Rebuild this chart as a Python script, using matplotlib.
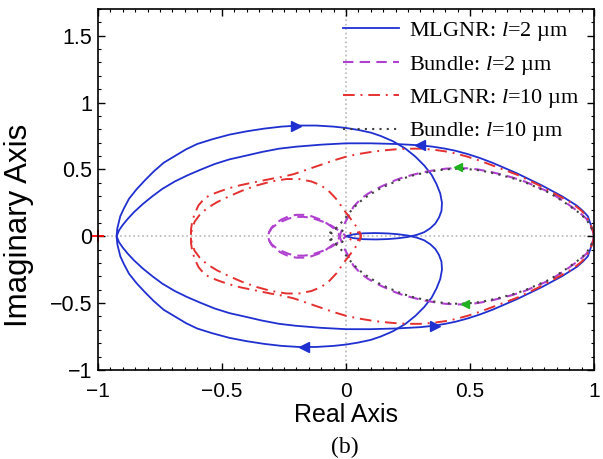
import numpy as np
import matplotlib
matplotlib.use('Agg')
import matplotlib.pyplot as plt
from matplotlib.lines import Line2D

plt.rcParams['font.family'] = ['Liberation Sans', 'DejaVu Sans']
plt.rcParams['mathtext.fontset'] = 'custom'
plt.rcParams['mathtext.it'] = 'Liberation Serif:italic'
plt.rcParams['mathtext.rm'] = 'Liberation Serif'

# Nyquist branches (one branch each, the other is the mirror image)
mlgnr2_x = [1.00, 0.997, 0.99, 0.975, 0.955, 0.93, 0.90, 0.87, 0.83, 0.79, 0.74, 0.69, 0.64, 0.59, 0.54,
            0.49, 0.44, 0.40, 0.35, 0.30, 0.20, 0.10, 0.0, -0.10, -0.20,
            -0.27, -0.34, -0.41, -0.47, -0.53, -0.59, -0.64, -0.69, -0.74, -0.78, -0.82, -0.855, -0.88,
            -0.90, -0.915, -0.925,
            -0.922, -0.91, -0.895, -0.875, -0.845, -0.81, -0.775, -0.735, -0.69, -0.645, -0.60, -0.54,
            -0.47, -0.40, -0.33, -0.26, -0.19, -0.12, -0.05, 0.0, 0.05, 0.10, 0.14, 0.19, 0.24, 0.28,
            0.315, 0.345, 0.365, 0.38, 0.387, 0.385, 0.375, 0.36, 0.34, 0.315, 0.285, 0.25, 0.21, 0.17,
            0.12, 0.07, 0.03, 0.0]
mlgnr2_y = [0.00, 0.035, 0.07, 0.15, 0.19, 0.23, 0.265, 0.30, 0.34, 0.38, 0.425, 0.47, 0.51, 0.55, 0.585,
            0.615, 0.64, 0.655, 0.67, 0.68, 0.69, 0.695, 0.695, 0.685, 0.67,
            0.655, 0.63, 0.60, 0.575, 0.54, 0.495, 0.455, 0.41, 0.355, 0.30, 0.24, 0.18, 0.13,
            0.085, 0.045, 0.0,
            -0.06, -0.15, -0.21, -0.28, -0.35, -0.42, -0.485, -0.55, -0.60, -0.65, -0.69, -0.725,
            -0.76, -0.785, -0.805, -0.82, -0.828, -0.828, -0.82, -0.81, -0.795, -0.775, -0.75, -0.71, -0.655, -0.595,
            -0.53, -0.46, -0.39, -0.32, -0.25, -0.19, -0.14, -0.095, -0.06, -0.03, -0.01, 0.005, 0.015, 0.021,
            0.024, 0.022, 0.014, 0.0]

mlgnr10_x = [1.00, 0.997, 0.99, 0.97, 0.95, 0.93, 0.90, 0.86, 0.82, 0.78, 0.735, 0.69, 0.64, 0.59, 0.54,
             0.49, 0.44, 0.40, 0.35, 0.30, 0.25, 0.20, 0.15, 0.10, 0.05, 0.0, -0.05, -0.10, -0.155,
             -0.21, -0.26, -0.30, -0.34, -0.38, -0.43, -0.47, -0.51, -0.545, -0.57, -0.595, -0.61, -0.62,
             -0.625, -0.625,
             -0.622, -0.61, -0.59, -0.56, -0.52, -0.47, -0.42, -0.36, -0.30, -0.24, -0.19, -0.14, -0.10,
             -0.065, -0.035, -0.01, 0.015, 0.035, 0.05, 0.058, 0.06, 0.055, 0.04, 0.02, 0.0]
mlgnr10_y = [0.00, 0.035, 0.07, 0.15, 0.19, 0.22, 0.26, 0.30, 0.34, 0.38, 0.42, 0.46, 0.495, 0.53, 0.565,
             0.595, 0.62, 0.635, 0.648, 0.655, 0.655, 0.65, 0.642, 0.63, 0.615, 0.595, 0.567, 0.535, 0.50,
             0.465, 0.443, 0.43, 0.415, 0.40, 0.38, 0.36, 0.335, 0.31, 0.285, 0.23, 0.17, 0.11,
             0.05, 0.0,
             -0.05, -0.11, -0.16, -0.21, -0.255, -0.30, -0.34, -0.38, -0.41, -0.428, -0.428, -0.41, -0.38,
             -0.33, -0.27, -0.20, -0.14, -0.09, -0.05, -0.02, 0.005, 0.025, 0.033, 0.025, 0.0]

bundle2_x = [1.00, 0.997, 0.99, 0.97, 0.94, 0.91, 0.88, 0.82, 0.77, 0.72, 0.67, 0.62, 0.575, 0.53, 0.49,
             0.45, 0.40, 0.36, 0.31, 0.27, 0.23, 0.20, 0.14, 0.09, 0.06, 0.03, 0.01, -0.01, -0.02,
             -0.03, -0.05, -0.08, -0.11, -0.14, -0.17, -0.20, -0.23, -0.26, -0.285, -0.30, -0.31, -0.315,
             -0.31, -0.30, -0.28, -0.26, -0.23, -0.20, -0.17, -0.14, -0.11, -0.08, -0.055, -0.035, -0.015, 0.0]
bundle2_y = [0.00, 0.03, 0.06, 0.13, 0.18, 0.22, 0.26, 0.33, 0.37, 0.41, 0.44, 0.465, 0.485, 0.50, 0.508,
             0.51, 0.505, 0.495, 0.478, 0.46, 0.44, 0.42, 0.37, 0.32, 0.28, 0.22, 0.15, 0.08, 0.03,
             -0.02, -0.06, -0.10, -0.13, -0.15, -0.16, -0.16, -0.15, -0.125, -0.095, -0.065, -0.03, 0.0,
             0.03, 0.06, 0.09, 0.11, 0.133, 0.145, 0.145, 0.138, 0.12, 0.10, 0.075, 0.05, 0.025, 0.0]

bundle10_x = [1.00, 0.997, 0.99, 0.97, 0.94, 0.91, 0.88, 0.82, 0.77, 0.72, 0.67, 0.62, 0.575, 0.53, 0.49,
              0.45, 0.40, 0.36, 0.31, 0.27, 0.23, 0.20, 0.14, 0.09, 0.05, 0.02, -0.01, -0.03, -0.045,
              -0.058, -0.065, -0.065, -0.06, -0.05, -0.035, -0.02, -0.008, 0.0]
bundle10_y = [0.00, 0.03, 0.06, 0.125, 0.175, 0.215, 0.255, 0.325, 0.365, 0.405, 0.435, 0.46, 0.48, 0.495, 0.502,
              0.505, 0.50, 0.49, 0.472, 0.455, 0.432, 0.41, 0.36, 0.305, 0.25, 0.19, 0.12, 0.08, 0.05,
              0.025, 0.0, -0.02, -0.04, -0.055, -0.06, -0.05, -0.03, 0.0]

# arrow heads on the MLGNR l=2 um curve and on the bundle curves
blue_arrow_x = [-0.20, -0.17, 0.30, 0.36]
blue_arrow_y = [0.828, -0.828, 0.685, -0.67]
blue_arrow_m = ['>', '<', '<', '>']
green_arrow_x = [0.45, 0.48]
green_arrow_y = [0.515, -0.505]

labels = ['MLGNR: $l$=2 µm', 'Bundle: $l$=2 µm', 'MLGNR: $l$=10 µm', 'Bundle: $l$=10 µm']
xticks = [-1, -0.5, 0, 0.5, 1]
xticklabels = ['\u22121', '\u22120.5', '0', '0.5', '1']
yticks = [-1, -0.5, 0, 0.5, 1, 1.5]
yticklabels = ['\u22121', '\u22120.5', '0', '0.5', '1', '1.5']

fig = plt.figure(figsize=(6.03, 4.59), dpi=100)
ax = fig.add_axes([0.1625, 0.194, 0.8226, 0.7865])

# zero lines
ax.axhline(0, color='#b8b8b8', linestyle=':', linewidth=1.2, zorder=0)
ax.axvline(0, color='#b8b8b8', linestyle=':', linewidth=1.2, zorder=0)


def both(xs, ys):
    xs = np.array(xs)
    ys = np.array(ys)
    return (xs, ys), (xs, -ys)


styles = [
    (mlgnr2_x, mlgnr2_y, dict(color='#2030d0', linestyle='-', linewidth=1.3)),
    (bundle2_x, bundle2_y, dict(color='#b040d0', linestyle=(0, (5, 3)), linewidth=1.5)),
    (mlgnr10_x, mlgnr10_y, dict(color='#e53030', linestyle=(0, (6, 3, 1, 3)), linewidth=1.4)),
    (bundle10_x, bundle10_y, dict(color='#404040', linestyle=(0, (1, 2.5)), linewidth=1.5)),
]
handles = []
for (xs, ys, st), lab in zip(styles, labels):
    for px, py in both(xs, ys):
        ax.plot(px, py, **st)
    handles.append(Line2D([], [], **st, label=lab))

for x, y, m in zip(blue_arrow_x, blue_arrow_y, blue_arrow_m):
    ax.plot(x, y, marker=m, color='#2030d0', markersize=7, linestyle='none')
ax.plot(green_arrow_x, green_arrow_y, marker='<', color='#20b020', markersize=6, linestyle='none')
ax.plot(-1, 0, marker='+', color='red', markersize=8, markeredgewidth=1.3, clip_on=False)

ax.set_xlim(-1, 1)
ax.set_ylim(-1, 1.7)
ax.set_xticks(xticks)
ax.set_xticklabels(xticklabels)
ax.set_yticks(yticks)
ax.set_yticklabels(yticklabels)
ax.set_xticks(np.arange(-1, 1.001, 0.05), minor=True)
ax.set_yticks(np.arange(-1, 1.701, 0.1), minor=True)
ax.tick_params(which='both', direction='in', top=True, right=True)
ax.tick_params(axis='x', labelsize=15, pad=9)
ax.tick_params(axis='y', labelsize=15.5, pad=4)
ax.tick_params(which='major', length=5, width=1)
ax.tick_params(which='minor', length=2.5, width=0.8)
for s in ax.spines.values():
    s.set_linewidth(1.2)

ax.set_xlabel('Real Axis', fontsize=18, labelpad=1)
ax.set_ylabel('Imaginary Axis', fontsize=22.5)
ax.yaxis.set_label_coords(-0.128, 0.40)

leg = ax.legend(handles=handles, loc='upper right', frameon=False, handlelength=2.5,
                handletextpad=0.45, labelspacing=0.47, borderaxespad=0.1,
                prop={'family': 'Liberation Serif', 'size': 16}, bbox_to_anchor=(0.993, 1.0))

fig.text(0.572, 0.012, '(b)', family='Liberation Serif', fontsize=17, ha='center')

fig.savefig('out.png', dpi=100)
